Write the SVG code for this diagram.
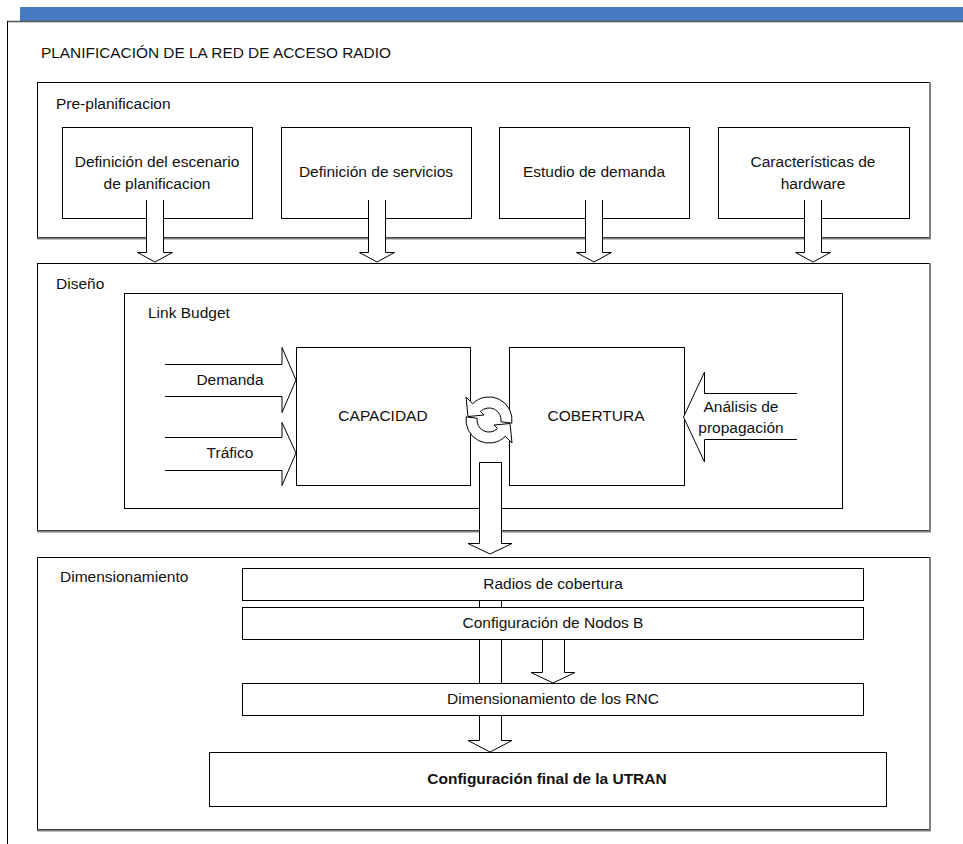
<svg xmlns="http://www.w3.org/2000/svg" width="963" height="844" viewBox="0 0 963 844">
<style>
text{font-family:"Liberation Sans",Arial,sans-serif;font-size:15.5px;fill:#111}
.c{text-anchor:middle}
.box{fill:#fff;stroke:#000;stroke-width:1}
.big{fill:#fff;stroke:#000;stroke-width:1}
.sh{stroke:#808080;stroke-width:2;fill:none}
.arr{fill:#fff;stroke:#000;stroke-width:1;stroke-linejoin:miter}
</style>
<rect width="963" height="844" fill="#fff"/>
<rect x="20" y="7" width="943" height="14" fill="#4779c0"/>
<line x1="7" y1="21.5" x2="963" y2="21.5" stroke="#555" stroke-width="1.5"/>
<line x1="7.5" y1="21" x2="7.5" y2="844" stroke="#000" stroke-width="1"/>
<text x="41" y="58" textLength="350" lengthAdjust="spacingAndGlyphs" style="font-size:15px">PLANIFICACIÓN DE LA RED DE ACCESO RADIO</text>

<g id="preplanificacion">
<rect class="big" x="37.5" y="82.5" width="892" height="155"/>
<polyline class="sh" points="930,82 930,238.5 37,238.5"/>
<text x="56" y="109">Pre-planificacion</text>
</g>
<g id="escenario"><rect class="box" x="62.5" y="127.5" width="190" height="91"/><text class="c" x="157" y="167">Definición del escenario</text><text class="c" x="157" y="189">de planificacion</text></g>
<g id="servicios"><rect class="box" x="281.5" y="127.5" width="190" height="91"/><text class="c" x="376" y="177">Definición de servicios</text></g>
<g id="demanda-estudio"><rect class="box" x="499.5" y="127.5" width="190" height="91"/><text class="c" x="594" y="177">Estudio de demanda</text></g>
<g id="hardware"><rect class="box" x="718.5" y="127.5" width="191" height="91"/><text class="c" x="813" y="167">Características de</text><text class="c" x="813" y="189">hardware</text></g>

<g id="diseno">
<rect class="big" x="37.5" y="263.5" width="892" height="267"/>
<polyline class="sh" points="930,263 930,531.5 37,531.5"/>
<text x="56" y="289">Diseño</text>
</g>
<g id="linkbudget"><rect class="box" x="124.5" y="293.5" width="718" height="215"/><text x="148" y="318">Link Budget</text></g>
<g id="capacidad"><rect class="box" x="296.5" y="347.5" width="174" height="138"/><text class="c" x="383" y="421">CAPACIDAD</text></g>
<g id="cobertura"><rect class="box" x="509.5" y="347.5" width="175" height="138"/><text class="c" x="596" y="421">COBERTURA</text></g>

<g id="dimensionamiento">
<rect class="big" x="37.5" y="557.5" width="892" height="272"/>
<polyline class="sh" points="930,557 930,830.5 37,830.5"/>
<text x="60" y="582">Dimensionamiento</text>
</g>

<g id="connectors">
<path class="arr" d="M146.5,200 V252.5 H137.5 L155,262 L172.5,252.5 H163.5 V200"/>
<path class="arr" d="M368.5,200 V252.5 H359.5 L377,262 L394.5,252.5 H385.5 V200"/>
<path class="arr" d="M585.5,200 V252.5 H576.5 L594,262 L611.5,252.5 H602.5 V200"/>
<path class="arr" d="M804.5,200 V252.5 H795.5 L813,262 L830.5,252.5 H821.5 V200"/>
<path class="arr" d="M165,364.5 H282 V347.5 L296,380 L282,412.5 V396.5 H165"/>
<path class="arr" d="M165,437.5 H282 V422.5 L296,453 L282,485.5 V470.5 H165"/>
<path class="arr" d="M797,393.5 H704.5 V372 L683.5,417 L704.5,462 V439.5 H797"/>
<g fill="#fff" stroke="#000" stroke-width="1">
<path d="M511.8,423.2 A23,23 0 0 0 472.7,403.7 L466,397 L468,416.5 L484,415 L480.5,411.5 A12,12 0 0 1 500.9,421.7 Z"/>
<path transform="rotate(180 489 420)" d="M511.8,423.2 A23,23 0 0 0 472.7,403.7 L466,397 L468,416.5 L484,415 L480.5,411.5 A12,12 0 0 1 500.9,421.7 Z"/>
</g>
<path class="arr" d="M479.5,462.5 H501.5 V543.5 H512 L490,554 L468,543.5 H479.5 Z"/>
<path class="arr" d="M479.5,590 V740.5 H468 L490,752 L512,740.5 H501.5 V590"/>
<path class="arr" d="M542.5,630 V672.5 H531 L553,683 L575,672.5 H564.5 V630"/>
</g>
<text class="c" x="230" y="385">Demanda</text>
<text class="c" x="230" y="458">Tráfico</text>
<text class="c" x="741" y="412">Análisis de</text>
<text class="c" x="741" y="433">propagación</text>

<g id="radios"><rect class="box" x="242.5" y="568.5" width="621" height="32"/><text class="c" x="553" y="589">Radios de cobertura</text></g>
<g id="nodosb"><rect class="box" x="242.5" y="607.5" width="621" height="32"/><text class="c" x="553" y="628">Configuración de Nodos B</text></g>
<g id="rnc"><rect class="box" x="242.5" y="683.5" width="621" height="32"/><text class="c" x="553" y="704">Dimensionamiento de los RNC</text></g>
<g id="utran"><rect class="box" x="209.5" y="752.5" width="677" height="54"/><text class="c" x="547" y="784" style="font-weight:bold">Configuración final de la UTRAN</text></g>
</svg>
